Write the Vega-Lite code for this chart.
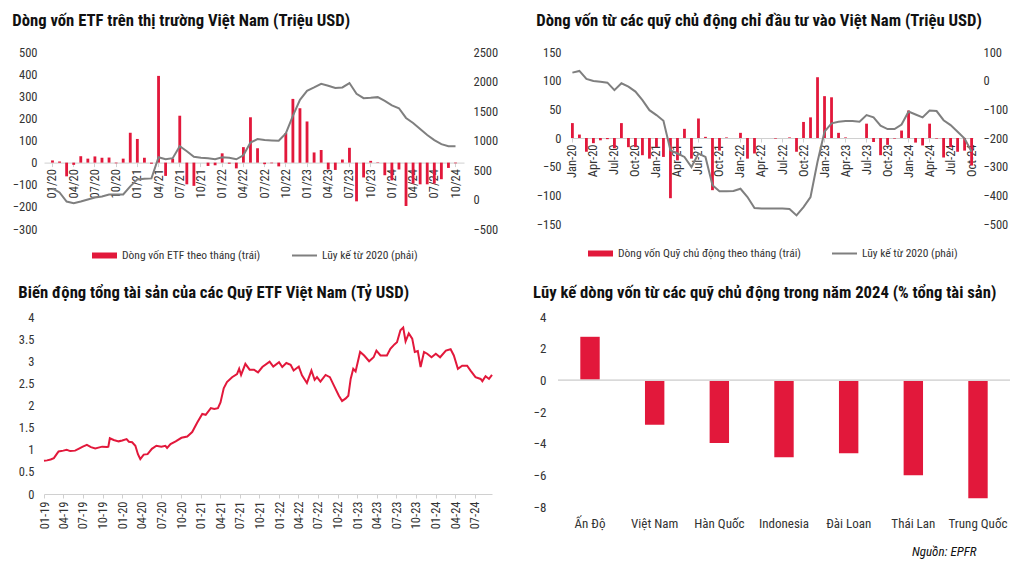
{
  "$schema": "https://vega.github.io/schema/vega-lite/v6.json",
  "background": "white",
  "padding": {"left": 12, "top": 13, "right": 5, "bottom": 4},
  "config": {
    "view": {"stroke": null},
    "font": "Liberation Sans Narrow, Roboto Condensed, DejaVu Sans Condensed, Liberation Sans, sans-serif",
    "title": {"anchor": "start", "fontSize": 16.7, "fontWeight": "bold", "color": "#111111", "offset": 16, "font": "Liberation Sans Narrow, Roboto Condensed, DejaVu Sans Condensed, Liberation Sans, sans-serif"},
    "axis": {"labelFontSize": 12.5, "labelColor": "#333333", "grid": false, "title": null, "domainColor": "#d0d0d0", "tickColor": "#d0d0d0", "labelFont": "Liberation Sans Narrow, Roboto Condensed, DejaVu Sans Condensed, Liberation Sans, sans-serif"},
    "axisY": {"domain": false, "ticks": false, "labelPadding": 10, "format": "~f"},
    "legend": {"orient": "bottom", "direction": "horizontal", "labelFontSize": 11.5, "labelColor": "#333333", "labelLimit": 300, "offset": 13, "symbolSize": 625, "layout": {"bottom": {"anchor": "middle", "direction": "horizontal", "margin": 30}}, "labelFont": "Liberation Sans Narrow, Roboto Condensed, DejaVu Sans Condensed, Liberation Sans, sans-serif"}
  },
  "title": {"text": "Nguồn: EPFR", "orient": "bottom", "anchor": "end", "fontStyle": "italic", "fontWeight": "normal", "fontSize": 13, "offset": 16, "dx": -34},
  "resolve": {"scale": {"fill": "independent", "stroke": "independent"}, "legend": {"fill": "independent", "stroke": "independent"}},
  "datasets": {
    "etf": [
      {"t":"01/20","flow":10,"cum":188},{"t":"02/20","flow":5,"cum":119},{"t":"03/20","flow":-62,"cum":-34},{"t":"04/20","flow":-10,"cum":-63},
      {"t":"05/20","flow":29,"cum":-34},{"t":"06/20","flow":18,"cum":0},{"t":"07/20","flow":28,"cum":34},{"t":"08/20","flow":22,"cum":51},
      {"t":"09/20","flow":23,"cum":85},{"t":"10/20","flow":-3,"cum":85},{"t":"11/20","flow":18,"cum":85},{"t":"12/20","flow":135,"cum":222},
      {"t":"01/21","flow":107,"cum":341},{"t":"02/21","flow":22,"cum":353},{"t":"03/21","flow":-5,"cum":358},{"t":"04/21","flow":392,"cum":717},
      {"t":"05/21","flow":-60,"cum":682},{"t":"06/21","flow":18,"cum":700},{"t":"07/21","flow":212,"cum":904},{"t":"08/21","flow":-98,"cum":819},
      {"t":"09/21","flow":-105,"cum":725},{"t":"10/21","flow":0,"cum":708},{"t":"11/21","flow":-15,"cum":700},{"t":"12/21","flow":-12,"cum":682},
      {"t":"01/22","flow":42,"cum":716},{"t":"02/22","flow":-5,"cum":708},{"t":"03/22","flow":-26,"cum":682},{"t":"04/22","flow":70,"cum":750},
      {"t":"05/22","flow":205,"cum":964},{"t":"06/22","flow":65,"cum":1024},{"t":"07/22","flow":-7,"cum":1007},{"t":"08/22","flow":-3,"cum":1001},
      {"t":"09/22","flow":-17,"cum":995},{"t":"10/22","flow":134,"cum":1121},{"t":"11/22","flow":288,"cum":1416},{"t":"12/22","flow":246,"cum":1689},
      {"t":"01/23","flow":186,"cum":1842},{"t":"02/23","flow":46,"cum":1899},{"t":"03/23","flow":57,"cum":1962},{"t":"04/23","flow":-31,"cum":1928},
      {"t":"05/23","flow":-33,"cum":1889},{"t":"06/23","flow":14,"cum":1899},{"t":"07/23","flow":67,"cum":1974},{"t":"08/23","flow":-175,"cum":1791},
      {"t":"09/23","flow":-67,"cum":1718},{"t":"10/23","flow":8,"cum":1723},{"t":"11/23","flow":2,"cum":1735},{"t":"12/23","flow":-57,"cum":1672},
      {"t":"01/24","flow":-80,"cum":1595},{"t":"02/24","flow":-31,"cum":1547},{"t":"03/24","flow":-196,"cum":1382},{"t":"04/24","flow":-95,"cum":1297},
      {"t":"05/24","flow":-98,"cum":1194},{"t":"06/24","flow":-98,"cum":1092},{"t":"07/24","flow":-95,"cum":1007},{"t":"08/24","flow":-75,"cum":938},
      {"t":"09/24","flow":-24,"cum":904},{"t":"10/24","flow":-3,"cum":904}
    ],
    "active": [
      {"t":"Jan-20","flow":26,"cum":28},{"t":"Feb-20","flow":6,"cum":34},{"t":"Mar-20","flow":-24,"cum":6},{"t":"Apr-20","flow":-9,"cum":-1},
      {"t":"May-20","flow":-4,"cum":-4},{"t":"Jun-20","flow":-2,"cum":-7},{"t":"Jul-20","flow":-18,"cum":-33},{"t":"Aug-20","flow":26,"cum":-9},
      {"t":"Sep-20","flow":-16,"cum":-21},{"t":"Oct-20","flow":-16,"cum":-38},{"t":"Nov-20","flow":-30,"cum":-68},{"t":"Dec-20","flow":-36,"cum":-103},
      {"t":"Jan-21","flow":-16,"cum":-120},{"t":"Feb-21","flow":-33,"cum":-140},{"t":"Mar-21","flow":-105,"cum":-243},{"t":"Apr-21","flow":-39,"cum":-254},
      {"t":"May-21","flow":16,"cum":-266},{"t":"Jun-21","flow":-36,"cum":-301},{"t":"Jul-21","flow":34,"cum":-254},{"t":"Aug-21","flow":2,"cum":-266},
      {"t":"Sep-21","flow":-91,"cum":-365},{"t":"Oct-21","flow":-22,"cum":-386},{"t":"Nov-21","flow":1,"cum":-386},{"t":"Dec-21","flow":0,"cum":-385},
      {"t":"Jan-22","flow":9,"cum":-377},{"t":"Feb-22","flow":-36,"cum":-406},{"t":"Mar-22","flow":-27,"cum":-444},{"t":"Apr-22","flow":0,"cum":-446},
      {"t":"May-22","flow":0,"cum":-446},{"t":"Jun-22","flow":-1,"cum":-446},{"t":"Jul-22","flow":0,"cum":-446},{"t":"Aug-22","flow":1,"cum":-448},
      {"t":"Sep-22","flow":-24,"cum":-470},{"t":"Oct-22","flow":28,"cum":-441},{"t":"Nov-22","flow":36,"cum":-406},{"t":"Dec-22","flow":106,"cum":-283},
      {"t":"Jan-23","flow":73,"cum":-178},{"t":"Feb-23","flow":71,"cum":-149},{"t":"Mar-23","flow":9,"cum":-143},{"t":"Apr-23","flow":1,"cum":-141},
      {"t":"May-23","flow":0,"cum":-141},{"t":"Jun-23","flow":0,"cum":-143},{"t":"Jul-23","flow":25,"cum":-120},{"t":"Aug-23","flow":-7,"cum":-128},
      {"t":"Sep-23","flow":-30,"cum":-157},{"t":"Oct-23","flow":-12,"cum":-169},{"t":"Nov-23","flow":-1,"cum":-169},{"t":"Dec-23","flow":13,"cum":-153},
      {"t":"Jan-24","flow":48,"cum":-108},{"t":"Feb-24","flow":-8,"cum":-118},{"t":"Mar-24","flow":-13,"cum":-128},{"t":"Apr-24","flow":25,"cum":-104},
      {"t":"May-24","flow":-1,"cum":-106},{"t":"Jun-24","flow":-34,"cum":-138},{"t":"Jul-24","flow":-16,"cum":-155},{"t":"Aug-24","flow":-24,"cum":-178},
      {"t":"Sep-24","flow":-22,"cum":-202},{"t":"Oct-24","flow":-48,"cum":-248}
    ],
    "aum": [
      {"d":"2019-01-01","v":0.75},{"d":"2019-01-15","v":0.76},{"d":"2019-02-01","v":0.78},{"d":"2019-02-16","v":0.81},{"d":"2019-03-01","v":0.9},
      {"d":"2019-03-10","v":0.96},{"d":"2019-04-01","v":0.98},{"d":"2019-04-17","v":1.0},{"d":"2019-05-03","v":0.97},{"d":"2019-05-26","v":0.98},
      {"d":"2019-06-11","v":1.02},{"d":"2019-07-01","v":1.07},{"d":"2019-07-20","v":1.11},{"d":"2019-08-08","v":1.06},{"d":"2019-08-28","v":1.03},
      {"d":"2019-09-29","v":1.07},{"d":"2019-10-22","v":1.06},{"d":"2019-10-28","v":1.07},{"d":"2019-11-04","v":1.26},{"d":"2019-11-22","v":1.22},
      {"d":"2019-12-15","v":1.19},{"d":"2020-01-01","v":1.21},{"d":"2020-01-21","v":1.24},{"d":"2020-02-01","v":1.18},{"d":"2020-02-16","v":1.17},
      {"d":"2020-03-02","v":1.09},{"d":"2020-03-14","v":0.9},{"d":"2020-03-25","v":0.79},{"d":"2020-04-10","v":0.89},{"d":"2020-04-28","v":0.9},
      {"d":"2020-05-18","v":1.02},{"d":"2020-06-08","v":1.09},{"d":"2020-07-01","v":1.07},{"d":"2020-07-20","v":1.09},{"d":"2020-07-28","v":1.04},
      {"d":"2020-08-13","v":1.13},{"d":"2020-09-06","v":1.19},{"d":"2020-10-03","v":1.27},{"d":"2020-10-30","v":1.3},{"d":"2020-11-22","v":1.4},
      {"d":"2020-12-15","v":1.61},{"d":"2021-01-08","v":1.81},{"d":"2021-01-24","v":1.79},{"d":"2021-02-17","v":1.94},{"d":"2021-03-05","v":1.92},
      {"d":"2021-03-22","v":1.94},{"d":"2021-04-03","v":2.07},{"d":"2021-04-18","v":2.39},{"d":"2021-05-03","v":2.53},{"d":"2021-05-27","v":2.64},
      {"d":"2021-06-19","v":2.71},{"d":"2021-06-29","v":2.83},{"d":"2021-07-08","v":2.69},{"d":"2021-07-28","v":2.94},{"d":"2021-08-17","v":2.81},
      {"d":"2021-09-06","v":2.81},{"d":"2021-09-25","v":2.75},{"d":"2021-10-15","v":2.87},{"d":"2021-11-18","v":2.99},{"d":"2021-12-05","v":2.88},
      {"d":"2022-01-01","v":2.98},{"d":"2022-01-16","v":2.87},{"d":"2022-02-04","v":2.96},{"d":"2022-02-24","v":2.92},{"d":"2022-03-10","v":2.79},
      {"d":"2022-04-03","v":2.88},{"d":"2022-04-18","v":2.68},{"d":"2022-05-11","v":2.51},{"d":"2022-06-01","v":2.79},{"d":"2022-06-16","v":2.58},
      {"d":"2022-06-27","v":2.64},{"d":"2022-07-13","v":2.54},{"d":"2022-08-06","v":2.69},{"d":"2022-08-26","v":2.64},{"d":"2022-09-14","v":2.45},
      {"d":"2022-10-07","v":2.22},{"d":"2022-10-22","v":2.1},{"d":"2022-11-08","v":2.16},{"d":"2022-11-20","v":2.22},{"d":"2022-12-01","v":2.6},
      {"d":"2022-12-13","v":2.83},{"d":"2022-12-24","v":2.77},{"d":"2023-01-14","v":3.21},{"d":"2023-02-02","v":3.13},{"d":"2023-02-25","v":3.0},
      {"d":"2023-03-18","v":3.09},{"d":"2023-03-31","v":3.24},{"d":"2023-04-19","v":3.13},{"d":"2023-05-19","v":3.13},{"d":"2023-06-04","v":3.28},
      {"d":"2023-06-23","v":3.38},{"d":"2023-07-05","v":3.43},{"d":"2023-07-21","v":3.7},{"d":"2023-08-03","v":3.76},{"d":"2023-08-14","v":3.45},
      {"d":"2023-08-29","v":3.63},{"d":"2023-09-14","v":3.51},{"d":"2023-09-26","v":3.21},{"d":"2023-10-10","v":3.23},{"d":"2023-10-23","v":2.87},
      {"d":"2023-11-08","v":3.21},{"d":"2023-11-23","v":3.17},{"d":"2023-12-13","v":3.09},{"d":"2024-01-02","v":3.17},{"d":"2024-01-22","v":3.09},
      {"d":"2024-02-18","v":3.24},{"d":"2024-03-11","v":3.27},{"d":"2024-03-26","v":3.13},{"d":"2024-04-14","v":2.83},{"d":"2024-05-04","v":2.9},
      {"d":"2024-05-27","v":2.9},{"d":"2024-06-12","v":2.79},{"d":"2024-07-05","v":2.64},{"d":"2024-07-29","v":2.6},{"d":"2024-08-06","v":2.55},
      {"d":"2024-08-21","v":2.66},{"d":"2024-09-06","v":2.6},{"d":"2024-09-20","v":2.69}
    ],
    "cty": [
      {"c":"Ấn Độ","v":2.75},{"c":"Việt Nam","v":-2.8},{"c":"Hàn Quốc","v":-3.95},{"c":"Indonesia","v":-4.85},
      {"c":"Đài Loan","v":-4.6},{"c":"Thái Lan","v":-6.0},{"c":"Trung Quốc","v":-7.45}
    ]
  },
  "spacing": 24,
  "vconcat": [
    {
      "spacing": 38,
      "resolve": {"scale": {"fill": "independent", "stroke": "independent"}, "legend": {"fill": "independent", "stroke": "independent"}},
      "hconcat": [
        {
          "title": "Dòng vốn ETF trên thị trường Việt Nam (Triệu USD)",
          "width": 420, "height": 177,
          "data": {"name": "etf"},
          "encoding": {
            "x": {"field": "t", "type": "ordinal", "sort": null,
              "scale": {"paddingInner": 0.6, "paddingOuter": 1.0},
              "axis": {"values": ["01/20","04/20","07/20","10/20","01/21","04/21","07/21","10/21","01/22","04/22","07/22","10/22","01/23","04/23","07/23","10/23","01/24","04/24","07/24","10/24"],
                "labelAngle": -90, "offset": -66.4, "tickSize": 4, "labelPadding": 2}}
          },
          "layer": [
            {"mark": {"type": "bar"},
             "encoding": {
               "y": {"field": "flow", "type": "quantitative", "scale": {"domain": [-300, 500], "nice": false},
                 "axis": {"values": [-300,-200,-100,0,100,200,300,400,500], "labelPadding": 7}},
               "fill": {"datum": "Dòng vốn ETF theo tháng (trái)", "type": "nominal", "scale": {"range": ["#e2183b"]},
                 "legend": {"title": null, "symbolType": "M-1,-0.24H1V0.24H-1Z"}}
             }},
            {"mark": {"type": "line", "strokeWidth": 2},
             "encoding": {
               "y": {"field": "cum", "type": "quantitative", "scale": {"domain": [-500, 2500], "nice": false},
                 "axis": {"orient": "right", "values": [-500,0,500,1000,1500,2000,2500], "labelPadding": 9}},
               "stroke": {"datum": "Lũy kế từ 2020 (phải)", "type": "nominal", "scale": {"range": ["#7f7f7f"]},
                 "legend": {"title": null, "symbolType": "stroke", "symbolStrokeWidth": 2}}
             }}
          ],
          "resolve": {"scale": {"y": "independent"}}
        },
        {
          "title": "Dòng vốn từ các quỹ chủ động chỉ đầu tư vào Việt Nam (Triệu USD)",
          "width": 402, "height": 172,
          "data": {"name": "active"},
          "encoding": {
            "x": {"field": "t", "type": "ordinal", "sort": null,
              "scale": {"paddingInner": 0.6, "paddingOuter": 0},
              "axis": {"values": ["Jan-20","Apr-20","Jul-20","Oct-20","Jan-21","Apr-21","Jul-21","Oct-21","Jan-22","Apr-22","Jul-22","Oct-22","Jan-23","Apr-23","Jul-23","Oct-23","Jan-24","Apr-24","Jul-24","Oct-24"],
                "labelAngle": -90, "offset": -86, "tickSize": 4, "labelPadding": 2}}
          },
          "layer": [
            {"mark": {"type": "bar"},
             "encoding": {
               "y": {"field": "flow", "type": "quantitative", "scale": {"domain": [-150, 150], "nice": false},
                 "axis": {"values": [-150,-100,-50,0,50,100,150]}},
               "fill": {"datum": "Dòng vốn Quỹ chủ động theo tháng (trái)", "type": "nominal", "scale": {"range": ["#e2183b"]},
                 "legend": {"title": null, "symbolType": "M-1,-0.24H1V0.24H-1Z", "offset": 16}}
             }},
            {"mark": {"type": "line", "strokeWidth": 2},
             "encoding": {
               "y": {"field": "cum", "type": "quantitative", "scale": {"domain": [-500, 100], "nice": false},
                 "axis": {"orient": "right", "values": [-500,-400,-300,-200,-100,0,100]}},
               "stroke": {"datum": "Lũy kế từ 2020 (phải)", "type": "nominal", "scale": {"range": ["#7f7f7f"]},
                 "legend": {"title": null, "symbolType": "stroke", "symbolStrokeWidth": 2, "offset": 16}}
             }}
          ],
          "resolve": {"scale": {"y": "independent"}}
        }
      ]
    },
    {
      "spacing": 37,
      "hconcat": [
        {
          "title": {"text": "Biến động tổng tài sản của các Quỹ ETF Việt Nam (Tỷ USD)", "offset": 9},
          "width": 448, "height": 177,
          "data": {"name": "aum"},
          "mark": {"type": "line", "color": "#e2183b", "strokeWidth": 2},
          "encoding": {
            "x": {"field": "d", "type": "temporal",
              "scale": {"domain": [{"year": 2019, "month": 1, "date": 1}, {"year": 2024, "month": 9, "date": 20}]},
              "axis": {"format": "%m-%y", "labelAngle": -90, "tickSize": 4, "labelPadding": 3,
                "values": [
                  {"year":2019,"month":1,"date":1},{"year":2019,"month":4,"date":1},{"year":2019,"month":7,"date":1},{"year":2019,"month":10,"date":1},
                  {"year":2020,"month":1,"date":1},{"year":2020,"month":4,"date":1},{"year":2020,"month":7,"date":1},{"year":2020,"month":10,"date":1},
                  {"year":2021,"month":1,"date":1},{"year":2021,"month":4,"date":1},{"year":2021,"month":7,"date":1},{"year":2021,"month":10,"date":1},
                  {"year":2022,"month":1,"date":1},{"year":2022,"month":4,"date":1},{"year":2022,"month":7,"date":1},{"year":2022,"month":10,"date":1},
                  {"year":2023,"month":1,"date":1},{"year":2023,"month":4,"date":1},{"year":2023,"month":7,"date":1},{"year":2023,"month":10,"date":1},
                  {"year":2024,"month":1,"date":1},{"year":2024,"month":4,"date":1},{"year":2024,"month":7,"date":1}
                ]}},
            "y": {"field": "v", "type": "quantitative", "scale": {"domain": [0, 4], "nice": false},
              "axis": {"values": [0,0.5,1,1.5,2,2.5,3,3.5,4]}}
          }
        },
        {
          "title": {"text": "Lũy kế dòng vốn từ các quỹ chủ động trong năm 2024 (% tổng tài sản)", "offset": 9},
          "width": 452, "height": 190,
          "data": {"name": "cty"},
          "layer": [
            {"mark": {"type": "bar", "color": "#e2183b"},
             "encoding": {
               "x": {"field": "c", "type": "nominal", "sort": null,
                 "scale": {"paddingInner": 0.7, "paddingOuter": 0.345},
                 "axis": {"labelAngle": 0, "domain": false, "ticks": false, "labelPadding": 10, "labelFontSize": 13}},
               "y": {"field": "v", "type": "quantitative", "scale": {"domain": [-8, 4], "nice": false},
                 "axis": {"values": [-8,-6,-4,-2,0,2,4], "labelFontSize": 13, "labelPadding": 12}}
             }},
            {"mark": {"type": "rule", "color": "#d9d9d9"},
             "encoding": {"y": {"datum": 0, "axis": {"values": [-8,-6,-4,-2,0,2,4], "labelFontSize": 13, "labelPadding": 12}}}}
          ]
        }
      ]
    }
  ]
}
